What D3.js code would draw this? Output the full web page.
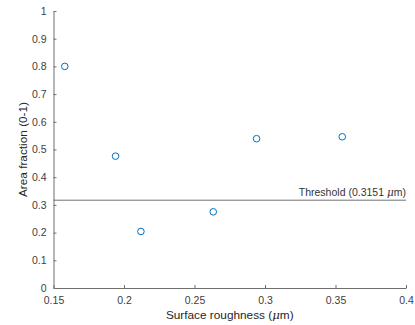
<!DOCTYPE html>
<html>
<head>
<meta charset="utf-8">
<script src="https://cdn.jsdelivr.net/npm/d3@7"></script>
<style>
  body { margin: 0; background: #fff; }
  svg { display: block; font-family: "Liberation Sans", Arial, sans-serif; }
</style>
</head>
<body>
<div id="chart"></div>
<script>
// data
const roughness = [0.158, 0.194, 0.212, 0.2633, 0.294, 0.3548];
const areaFraction = [0.80, 0.476, 0.204, 0.275, 0.539, 0.546];
const thresholdY = 0.317;
const xTicks = [0.15, 0.2, 0.25, 0.3, 0.35, 0.4];
const yTicks = [0, 0.1, 0.2, 0.3, 0.4, 0.5, 0.6, 0.7, 0.8, 0.9, 1];

const width = 415, height = 325;
const margin = { top: 11, right: 9, bottom: 37, left: 53.5 };
const axisColor = '#6e6e6e';
const textColor = '#404040';

const svg = d3.select('#chart').append('svg')
  .attr('width', width)
  .attr('height', height);

const x = d3.scaleLinear().domain([0.15, 0.4]).range([margin.left, width - margin.right]);
const y = d3.scaleLinear().domain([0, 1]).range([height - margin.bottom, margin.top]);

// x axis, ticks inward
const gx = svg.append('g')
  .attr('transform', `translate(0,${y(0)})`)
  .call(d3.axisBottom(x).tickValues(xTicks).tickSizeInner(-3).tickSizeOuter(0)
    .tickPadding(9).tickFormat(d3.format('~g')));

// y axis, ticks inward
const gy = svg.append('g')
  .attr('transform', `translate(${x(0.15)},0)`)
  .call(d3.axisLeft(y).tickValues(yTicks).tickSizeInner(-3).tickSizeOuter(0)
    .tickPadding(7).tickFormat(d3.format('~g')));

[gx, gy].forEach(g => {
  g.select('.domain').attr('stroke', axisColor);
  g.selectAll('.tick line').attr('stroke', axisColor);
  g.selectAll('.tick text').attr('fill', textColor).style('font-size', '10.5px');
});

// threshold line
svg.append('line')
  .attr('x1', x(0.15)).attr('x2', x(0.4))
  .attr('y1', y(thresholdY)).attr('y2', y(thresholdY))
  .attr('stroke', '#707070')
  .attr('stroke-width', 1);

const thr = svg.append('text')
  .attr('x', x(0.4))
  .attr('y', y(thresholdY) - 4.5)
  .attr('text-anchor', 'end')
  .attr('fill', '#333')
  .style('font-size', '10.5px')
  .attr('xml:space', 'preserve');
thr.append('tspan').text('Threshold (0.3151 ');
thr.append('tspan').style('font-style', 'italic').style('font-family', '"DejaVu Serif", serif').text('\u03bc');
thr.append('tspan').text('m)');

// points
svg.append('g')
  .selectAll('circle')
  .data(roughness.map((r, i) => [r, areaFraction[i]]))
  .join('circle')
  .attr('cx', d => x(d[0]))
  .attr('cy', d => y(d[1]))
  .attr('r', 3.3)
  .attr('fill', 'none')
  .attr('stroke', '#0072BD')
  .attr('stroke-width', 1);

// axis labels
const xl = svg.append('text')
  .attr('x', (x(0.15) + x(0.4)) / 2)
  .attr('y', height - 6)
  .attr('text-anchor', 'middle')
  .attr('fill', '#262626')
  .style('font-size', '11.8px');
xl.append('tspan').text('Surface roughness (');
xl.append('tspan').style('font-style', 'italic').style('font-family', '"DejaVu Serif", serif').text('\u03bc');
xl.append('tspan').text('m)');

svg.append('text')
  .attr('transform', `translate(27,${(y(0) + y(1)) / 2}) rotate(-90)`)
  .attr('text-anchor', 'middle')
  .attr('fill', '#262626')
  .style('font-size', '11.8px')
  .text('Area fraction (0-1)');
</script>
</body>
</html>
